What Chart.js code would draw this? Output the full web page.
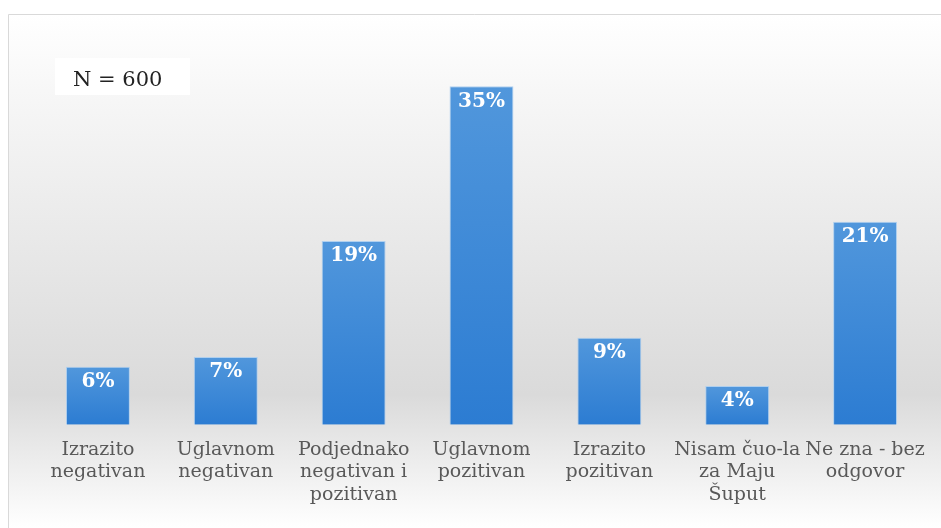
<!DOCTYPE html>
<html>
<head>
<meta charset="utf-8">
<script src="https://cdn.jsdelivr.net/npm/chart.js@4"></script>
<style>
  html, body { margin: 0; padding: 0; background: #ffffff; }
  #wrap { width: 941px; height: 528px; position: relative; }
</style>
</head>
<body>
<div id="wrap"><canvas id="surveyChart"></canvas></div>
<script>
// categories (multi-line tick labels) and percentages
const categories = [
    ['Izrazito', 'negativan'],
    ['Uglavnom', 'negativan'],
    ['Podjednako', 'negativan i', 'pozitivan'],
    ['Uglavnom', 'pozitivan'],
    ['Izrazito', 'pozitivan'],
    ['Nisam čuo-la', 'za Maju', 'Šuput'],
    ['Ne zna - bez', 'odgovor']
];
const shares = [6, 7, 19, 35, 9, 4, 21];
const sampleNote = 'N = 600';

// Background panel, frame and the sample size box
const backdrop = {
    id: 'backdrop',
    beforeDraw(chart) {
        const ctx = chart.ctx;
        const w = chart.width, h = chart.height;
        ctx.save();
        const g = ctx.createLinearGradient(0, 14, 0, h);
        g.addColorStop(0, '#ffffff');
        g.addColorStop(0.15, '#f7f7f7');
        g.addColorStop(0.74, '#dadada');
        g.addColorStop(1, '#ffffff');
        ctx.fillStyle = g;
        ctx.fillRect(8, 14, w - 8, h - 14);
        ctx.strokeStyle = '#d9d9d9';
        ctx.lineWidth = 1;
        ctx.beginPath();
        ctx.moveTo(8.5, h);
        ctx.lineTo(8.5, 14.5);
        ctx.lineTo(w, 14.5);
        ctx.stroke();

        ctx.fillStyle = '#ffffff';
        ctx.fillRect(55, 58, 135, 37);
        ctx.fillStyle = '#222222';
        ctx.font = '21px "DejaVu Serif"';
        ctx.textBaseline = 'middle';
        ctx.textAlign = 'left';
        ctx.fillText(sampleNote, 73, 81);
        ctx.restore();
    }
};

// Value labels inside the top of each bar
const barLabels = {
    id: 'barLabels',
    afterDatasetsDraw(chart) {
        const ctx = chart.ctx;
        const meta = chart.getDatasetMeta(0);
        ctx.save();
        ctx.fillStyle = '#ffffff';
        ctx.font = 'bold 20px "DejaVu Serif"';
        ctx.textAlign = 'center';
        ctx.textBaseline = 'middle';
        meta.data.forEach((bar, i) => {
            ctx.fillText(shares[i] + '%', bar.x, bar.y + 15);
        });
        ctx.restore();
    }
};

function barGradient(context) {
    const chart = context.chart;
    if (!chart.chartArea) return '#3d8ad6';
    const yScale = chart.scales.y;
    const top = yScale.getPixelForValue(context.raw);
    const base = yScale.getPixelForValue(0);
    const g = chart.ctx.createLinearGradient(0, top, 0, base);
    g.addColorStop(0, '#5197dc');
    g.addColorStop(1, '#2c7cd2');
    return g;
}

new Chart(document.getElementById('surveyChart'), {
    type: 'bar',
    data: {
        labels: categories,
        datasets: [{
            data: shares,
            backgroundColor: barGradient,
            borderColor: 'rgba(170, 205, 240, 0.9)',
            borderWidth: 1,
            categoryPercentage: 1,
            barPercentage: 0.5
        }]
    },
    options: {
        responsive: true,
        maintainAspectRatio: false,
        animation: false,
        events: [],
        layout: { padding: { left: 34, right: 12, top: 38, bottom: 8 } },
        plugins: {
            legend: { display: false },
            title: { display: false },
            tooltip: { enabled: false }
        },
        scales: {
            x: {
                grid: { display: false, drawTicks: false },
                border: { display: false },
                ticks: {
                    autoSkip: false,
                    maxRotation: 0,
                    padding: 14,
                    color: '#595959',
                    font: { family: '"DejaVu Serif"', size: 19, lineHeight: 1.18 }
                }
            },
            y: {
                display: false,
                min: 0,
                max: 40
            }
        }
    },
    plugins: [backdrop, barLabels]
});
</script>
</body>
</html>
